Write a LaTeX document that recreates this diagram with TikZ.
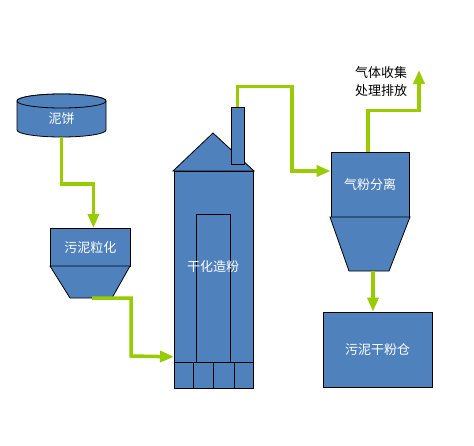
\documentclass[tikz,border=0pt]{standalone}
\usepackage{fontspec}
\newfontfamily\cjk{Noto Sans CJK SC}
\usetikzlibrary{arrows.meta}
\definecolor{fillblue}{RGB}{79,129,189}
\definecolor{flowgreen}{RGB}{153,204,0}
\begin{document}
\begin{tikzpicture}[x=1pt,y=-1pt,
  box/.style={draw=black, fill=fillblue, line width=0.8pt},
  lbl/.style={text=white, font=\cjk\fontsize{13}{15}\selectfont, inner sep=0pt},
  blk/.style={text=black, font=\cjk\fontsize{13}{18}\selectfont, align=center, inner sep=0pt},
  flow/.style={draw=flowgreen, line width=3.5pt, -{Triangle[length=14pt,width=11pt]}},
  outl/.style={draw=black, line width=0.8pt}]
\useasboundingbox[fill=white] (0,0) rectangle (474,445);

% cylinder 泥饼
\path[box] (17,101) -- (17,130) arc[start angle=180,end angle=0,x radius=44.5,y radius=7]
  -- (106,101) arc[start angle=0,end angle=-180,x radius=44.5,y radius=7] -- cycle;
\draw[box] (61.5,101) ellipse[x radius=44.5,y radius=7];
\node[lbl, minimum width=89pt, minimum height=36pt] (cake) at (61.5,119) {泥饼};

% hopper 污泥粒化
\node[box, lbl, minimum width=80pt, minimum height=38pt, anchor=north west] (gran) at (50,228) {污泥粒化};
\draw[box] (50,266) -- (130,266) -- (112,298) -- (70,298) -- cycle;
\coordinate (hopbot) at (92,298);

% tower 干化造粉
\draw[box] (173,171) -- (213,133) -- (254,171) -- cycle;
\node[box, minimum width=79pt, minimum height=217pt, anchor=north west, inner sep=0pt] (tower) at (174,171) {};
\node[box, minimum width=13pt, minimum height=57pt, inner sep=0pt] (chim) at (237.5,135.5) {};
\draw[outl] (196,362) -- (196,214) -- (230,214) -- (230,362);
\draw[outl] (174,362) -- (253,362);
\draw[outl] (193,362) -- (193,388) (213,362) -- (213,388) (234,362) -- (234,388);
\node[lbl] (towerlbl) at (213,267) {干化造粉};

% separator 气粉分离
\node[box, lbl, minimum width=78pt, minimum height=65pt] (sep) at (370,184.5) {气粉分离};
\draw[box] (330,217) -- (410,217) -- (389,271) -- (349,271) -- cycle;
\coordinate (sepbot) at (373,271);

% silo 污泥干粉仓
\node[box, lbl, minimum width=109pt, minimum height=75pt] (silo) at (377.5,349.5) {污泥干粉仓};

% gas label
\node[blk] (gas) at (381,82) {气体收集\\处理排放};
\coordinate (gasout) at (419,70);

% flows
\draw[flow] (cake.south) -- ++(0,47) -| ([xshift=3pt]gran.north);
\draw[flow] (hopbot) -| (131,356) -- ([yshift=32pt]tower.south west);
\draw[flow] (chim.north) -- ++(0,-20) -| (292,171) -- ([yshift=13.5pt]sep.west);
\draw[flow] ([xshift=-2pt]sep.north) -- ++(0,-41) -| (gasout);
\draw[flow] (sepbot) -- (sepbot |- silo.north);
\end{tikzpicture}
\end{document}
